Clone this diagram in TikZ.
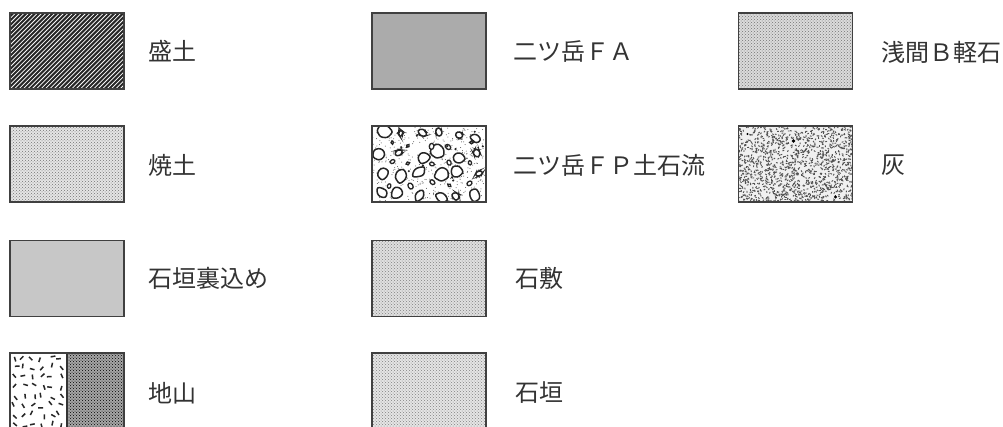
\documentclass[tikz,border=0pt]{standalone}
\usepackage{fontspec}
\newfontfamily\jp{Noto Sans CJK JP}
\usetikzlibrary{patterns}
\tikzset{
  swatch/.style={draw=black!75, line width=1.1, minimum width=114, minimum height=76, inner sep=0, outer sep=0},
  lbl/.style={anchor=west, inner sep=0, font=\jp\fontsize{24}{28}\selectfont, text=black!80},
  inpic/.style={shift={(path picture bounding box.center)}}
}
\begin{document}
\begin{tikzpicture}[x=1pt,y=-1pt]
\useasboundingbox[fill=white] (0,0) rectangle (1003,426);
\pgfmathsetseed{20231}

% Row 1
\node[swatch, fill=white, path picture={
  \begin{scope}[inpic]
    \foreach \k in {-140,-135.6,...,140} \draw[black!85, line width=2.0] (\k-45,45) -- (\k+45,-45);
  \end{scope}}] (b1) at (67,51) {};
\node[lbl] (l1) at (148,51) {盛土};

\node[swatch, fill=black!33] (b2) at (429,51) {};
\node[lbl] (l2) at (513,52) {二ツ岳ＦＡ};

\node[swatch, fill=black!14, path picture={
  \fill[pattern=crosshatch dots, pattern color=black!55] (path picture bounding box.south west) rectangle (path picture bounding box.north east);}] (b3) at (795.5,51) {};
\node[lbl] (l3) at (881,52) {浅間Ｂ軽石};

% Row 2
\node[swatch, fill=black!10, path picture={
  \fill[pattern=crosshatch dots, pattern color=black!55] (path picture bounding box.south west) rectangle (path picture bounding box.north east);}] (b4) at (67,164) {};
\node[lbl] (l4) at (148,165) {焼土};

\node[swatch, fill=white, path picture={
  \begin{scope}[inpic]
    \foreach \n in {1,...,450} {
      \pgfmathsetmacro\px{rand*57}
      \pgfmathsetmacro\py{rand*38}
      \fill[black!65] (\px,\py) circle[radius=0.5];
    }
    \foreach \i in {0,...,5} {
      \foreach \j in {0,...,3} {
        \pgfmathsetmacro\cx{-57+9+\i*19.5+rand*4}
        \pgfmathsetmacro\cy{-38+9+\j*19.5+rand*4}
        \pgfmathsetmacro\rr{3.5+rnd*4.5}
        \pgfmathsetmacro\el{0.6+rnd*0.5}
        \pgfmathsetmacro\ang{rnd*180}
        \pgfmathsetmacro\aa{\ang}
        \pgfmathsetmacro\ab{\ang+60}
        \pgfmathsetmacro\ac{\ang+120}
        \pgfmathsetmacro\ad{\ang+180}
        \pgfmathsetmacro\ae{\ang+240}
        \pgfmathsetmacro\af{\ang+300}
        \pgfmathsetmacro\qa{\rr*(0.75+0.45*rnd)}
        \pgfmathsetmacro\qb{\el*\rr*(0.75+0.45*rnd)}
        \pgfmathsetmacro\qc{\el*\rr*(0.75+0.45*rnd)}
        \pgfmathsetmacro\qd{\rr*(0.75+0.45*rnd)}
        \pgfmathsetmacro\qe{\el*\rr*(0.75+0.45*rnd)}
        \pgfmathsetmacro\qf{\el*\rr*(0.75+0.45*rnd)}
        \draw[line width=1.5, black!85, fill=white, rounded corners=2.2] (\cx,\cy) +(\aa:\qa) -- +(\ab:\qb) -- +(\ac:\qc) -- +(\ad:\qd) -- +(\ae:\qe) -- +(\af:\qf) -- cycle;
      }
    }
    \foreach \i in {0,...,4} {
      \foreach \j in {0,...,2} {
        \pgfmathsetmacro\cx{-57+19+\i*19.5+rand*3}
        \pgfmathsetmacro\cy{-38+19+\j*19.5+rand*3}
        \pgfmathsetmacro\rr{1.6+rnd*1.6}
        \pgfmathsetmacro\ang{rnd*180}
        \draw[line width=1.3, black!85, fill=white] (\cx,\cy) ellipse[x radius=\rr, y radius=0.75*\rr, rotate=\ang];
      }
    }
    \foreach \n in {1,...,10} {
      \pgfmathsetmacro\px{rand*55}
      \pgfmathsetmacro\py{rand*36}
      \fill[black!85] (\px,\py) circle[radius=1.2];
    }
  \end{scope}}] (b5) at (429,164) {};
\node[lbl] (l5) at (513,165) {二ツ岳ＦＰ土石流};

\node[swatch, fill=black!6, path picture={
  \begin{scope}[inpic]
    \foreach \n in {1,...,1300} {
      \pgfmathsetmacro\px{rand*57}
      \pgfmathsetmacro\py{rand*38}
      \pgfmathsetmacro\ang{rnd*180}
      \draw[black!68, line width=0.9] (\px,\py) ++(\ang:0.9) -- ++(\ang+180:1.8);
    }
    \fill[black] (-2,-23) circle[radius=1.8];
    \fill[black] (40,33) circle[radius=1.6];
    \fill[black] (-48,-30) circle[radius=1.2];
  \end{scope}}] (b6) at (795.5,164) {};
\node[lbl] (l6) at (881,165) {灰};

% Row 3
\node[swatch, fill=black!22] (b7) at (67,278.5) {};
\node[lbl] (l7) at (148,278) {石垣裏込め};

\node[swatch, fill=black!12, path picture={
  \fill[pattern=crosshatch dots, pattern color=black!50] (path picture bounding box.south west) rectangle (path picture bounding box.north east);}] (b8) at (429,278.5) {};
\node[lbl] (l8) at (515,278) {石敷};

% Row 4
\node[swatch, fill=white, path picture={
  \begin{scope}[inpic]
    \fill[black!35] (0,-38) rectangle (57,38);
    \fill[pattern=crosshatch dots, pattern color=black] (0,-38) rectangle (57,38);
    \foreach \i in {0,...,5} {
      \foreach \j in {0,...,7} {
        \pgfmathsetmacro\cx{-57+5+\i*9+rand*2.5}
        \pgfmathsetmacro\cy{-38+5+\j*9.5+rand*2.5}
        \pgfmathsetmacro\ang{rnd*180}
        \draw[black!85, line width=1.5] (\cx,\cy) ++(\ang:2.4) -- ++(\ang+180:4.8);
      }
    }
    \draw[black!80, line width=1.2] (0,-38) -- (0,38);
  \end{scope}}] (b9) at (67,391) {};
\node[lbl] (l9) at (148,393) {地山};

\node[swatch, fill=black!10, path picture={
  \fill[pattern=crosshatch dots, pattern color=black!50] (path picture bounding box.south west) rectangle (path picture bounding box.north east);}] (b10) at (429,391) {};
\node[lbl] (l10) at (515,393) {石垣};
\end{tikzpicture}
\end{document}
